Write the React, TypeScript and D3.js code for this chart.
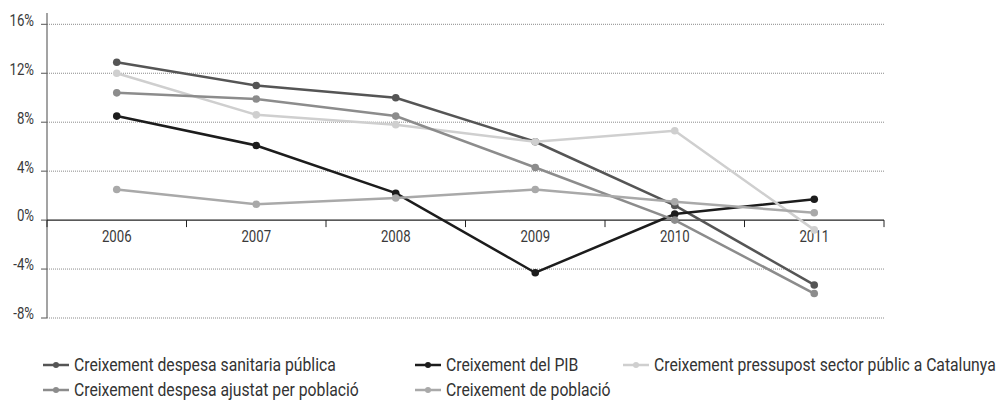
import * as React from 'react';
import * as d3 from 'd3';

const years = ['2006', '2007', '2008', '2009', '2010', '2011'];
const yTicks = [-8, -4, 0, 4, 8, 12, 16];

const sanitaria = [12.9, 11.0, 10.0, 6.4, 1.2, -5.3];
const pib = [8.5, 6.1, 2.2, -4.3, 0.5, 1.7];
const pressupost = [12.0, 8.6, 7.8, 6.4, 7.3, -0.8];
const ajustat = [10.4, 9.9, 8.5, 4.3, 0.0, -6.0];
const poblacio = [2.5, 1.3, 1.8, 2.5, 1.5, 0.6];

const seriesNames = [
  'Creixement despesa sanitaria pública',
  'Creixement del PIB',
  'Creixement pressupost sector públic a Catalunya',
  'Creixement despesa ajustat per població',
  'Creixement de població',
];
const seriesColors = ['#555555', '#1c1c1c', '#cfcfcf', '#8c8c8c', '#a9a9a9'];
const seriesValues = [sanitaria, pib, pressupost, ajustat, poblacio];

// no condensed font available, so Roboto squeezed horizontally
const font = "Roboto, 'DejaVu Sans', sans-serif";
const squeeze = 0.9;

export default function App() {
  const width = 1002,
    height = 400,
    left = 47,
    right = 884;

  const x = d3.scaleBand<string>().domain(years).range([left, right]);
  const y = d3.scaleLinear().domain([-8, 16]).range([318, 24.3]);
  const cx = (i: number) => (x(years[i]) as number) + x.bandwidth() / 2;

  const line = d3.line<number>()
    .x((d, i) => cx(i))
    .y(d => y(d));

  const bounds = years.map(yr => x(yr) as number).concat([right]);

  // legend slots: marker start x, row y
  const legendPos = [[43, 365], [415, 365], [623, 365], [43, 390], [415, 390]];

  return (
    <svg width={width} height={height} style={{ position: 'absolute', left: 0, top: 0, background: '#fff' }}>
      <g fontFamily={font} fill="#3a3a3a">
        {yTicks.map(t => (
          <g key={t}>
            {t !== 0 && (
              <line x1={left} x2={right} y1={y(t)} y2={y(t)} stroke="#8a8a8a" strokeWidth={1} strokeDasharray="1,1" />
            )}
            <line x1={left - 6} x2={left} y1={y(t)} y2={y(t)} stroke="#555" />
            <text transform={`translate(34,${y(t) - 3}) scale(0.8,1)`} fontSize={16.5} textAnchor="end" dominantBaseline="middle">{t + '%'}</text>
          </g>
        ))}
        <line x1={left} x2={left} y1={13} y2={318} stroke="#666" strokeWidth={1.2} />
        <line x1={left} x2={right} y1={y(0)} y2={y(0)} stroke="#222" strokeWidth={1.2} />
        {bounds.map((b, i) => (
          <line key={i} x1={b} x2={b} y1={y(0)} y2={y(0) + 7} stroke="#222" />
        ))}
        {years.map((yr, i) => (
          <text key={yr} transform={`translate(${cx(i)},238) scale(0.8,1)`} fontSize={16.5} textAnchor="middle" dominantBaseline="middle">{yr}</text>
        ))}

        {seriesValues.map((vals, s) => (
          <g key={s}>
            <path d={line(vals) as string} fill="none" stroke={seriesColors[s]} strokeWidth={2.5} />
            {vals.map((v, i) => (
              <circle key={i} cx={cx(i)} cy={y(v)} r={3.8} fill={seriesColors[s]} />
            ))}
          </g>
        ))}

        {seriesNames.map((name, s) => (
          <g key={name} transform={`translate(${legendPos[s][0]},${legendPos[s][1]})`}>
            <line x1={0} x2={26} y1={0} y2={0} stroke={seriesColors[s]} strokeWidth={2.5} />
            <circle cx={13} cy={0} r={3} fill={seriesColors[s]} />
            <text transform={`translate(31,1) scale(${squeeze},1)`} fontSize={17.5} dominantBaseline="middle" fill="#333">{name}</text>
          </g>
        ))}
      </g>
    </svg>
  );
}
